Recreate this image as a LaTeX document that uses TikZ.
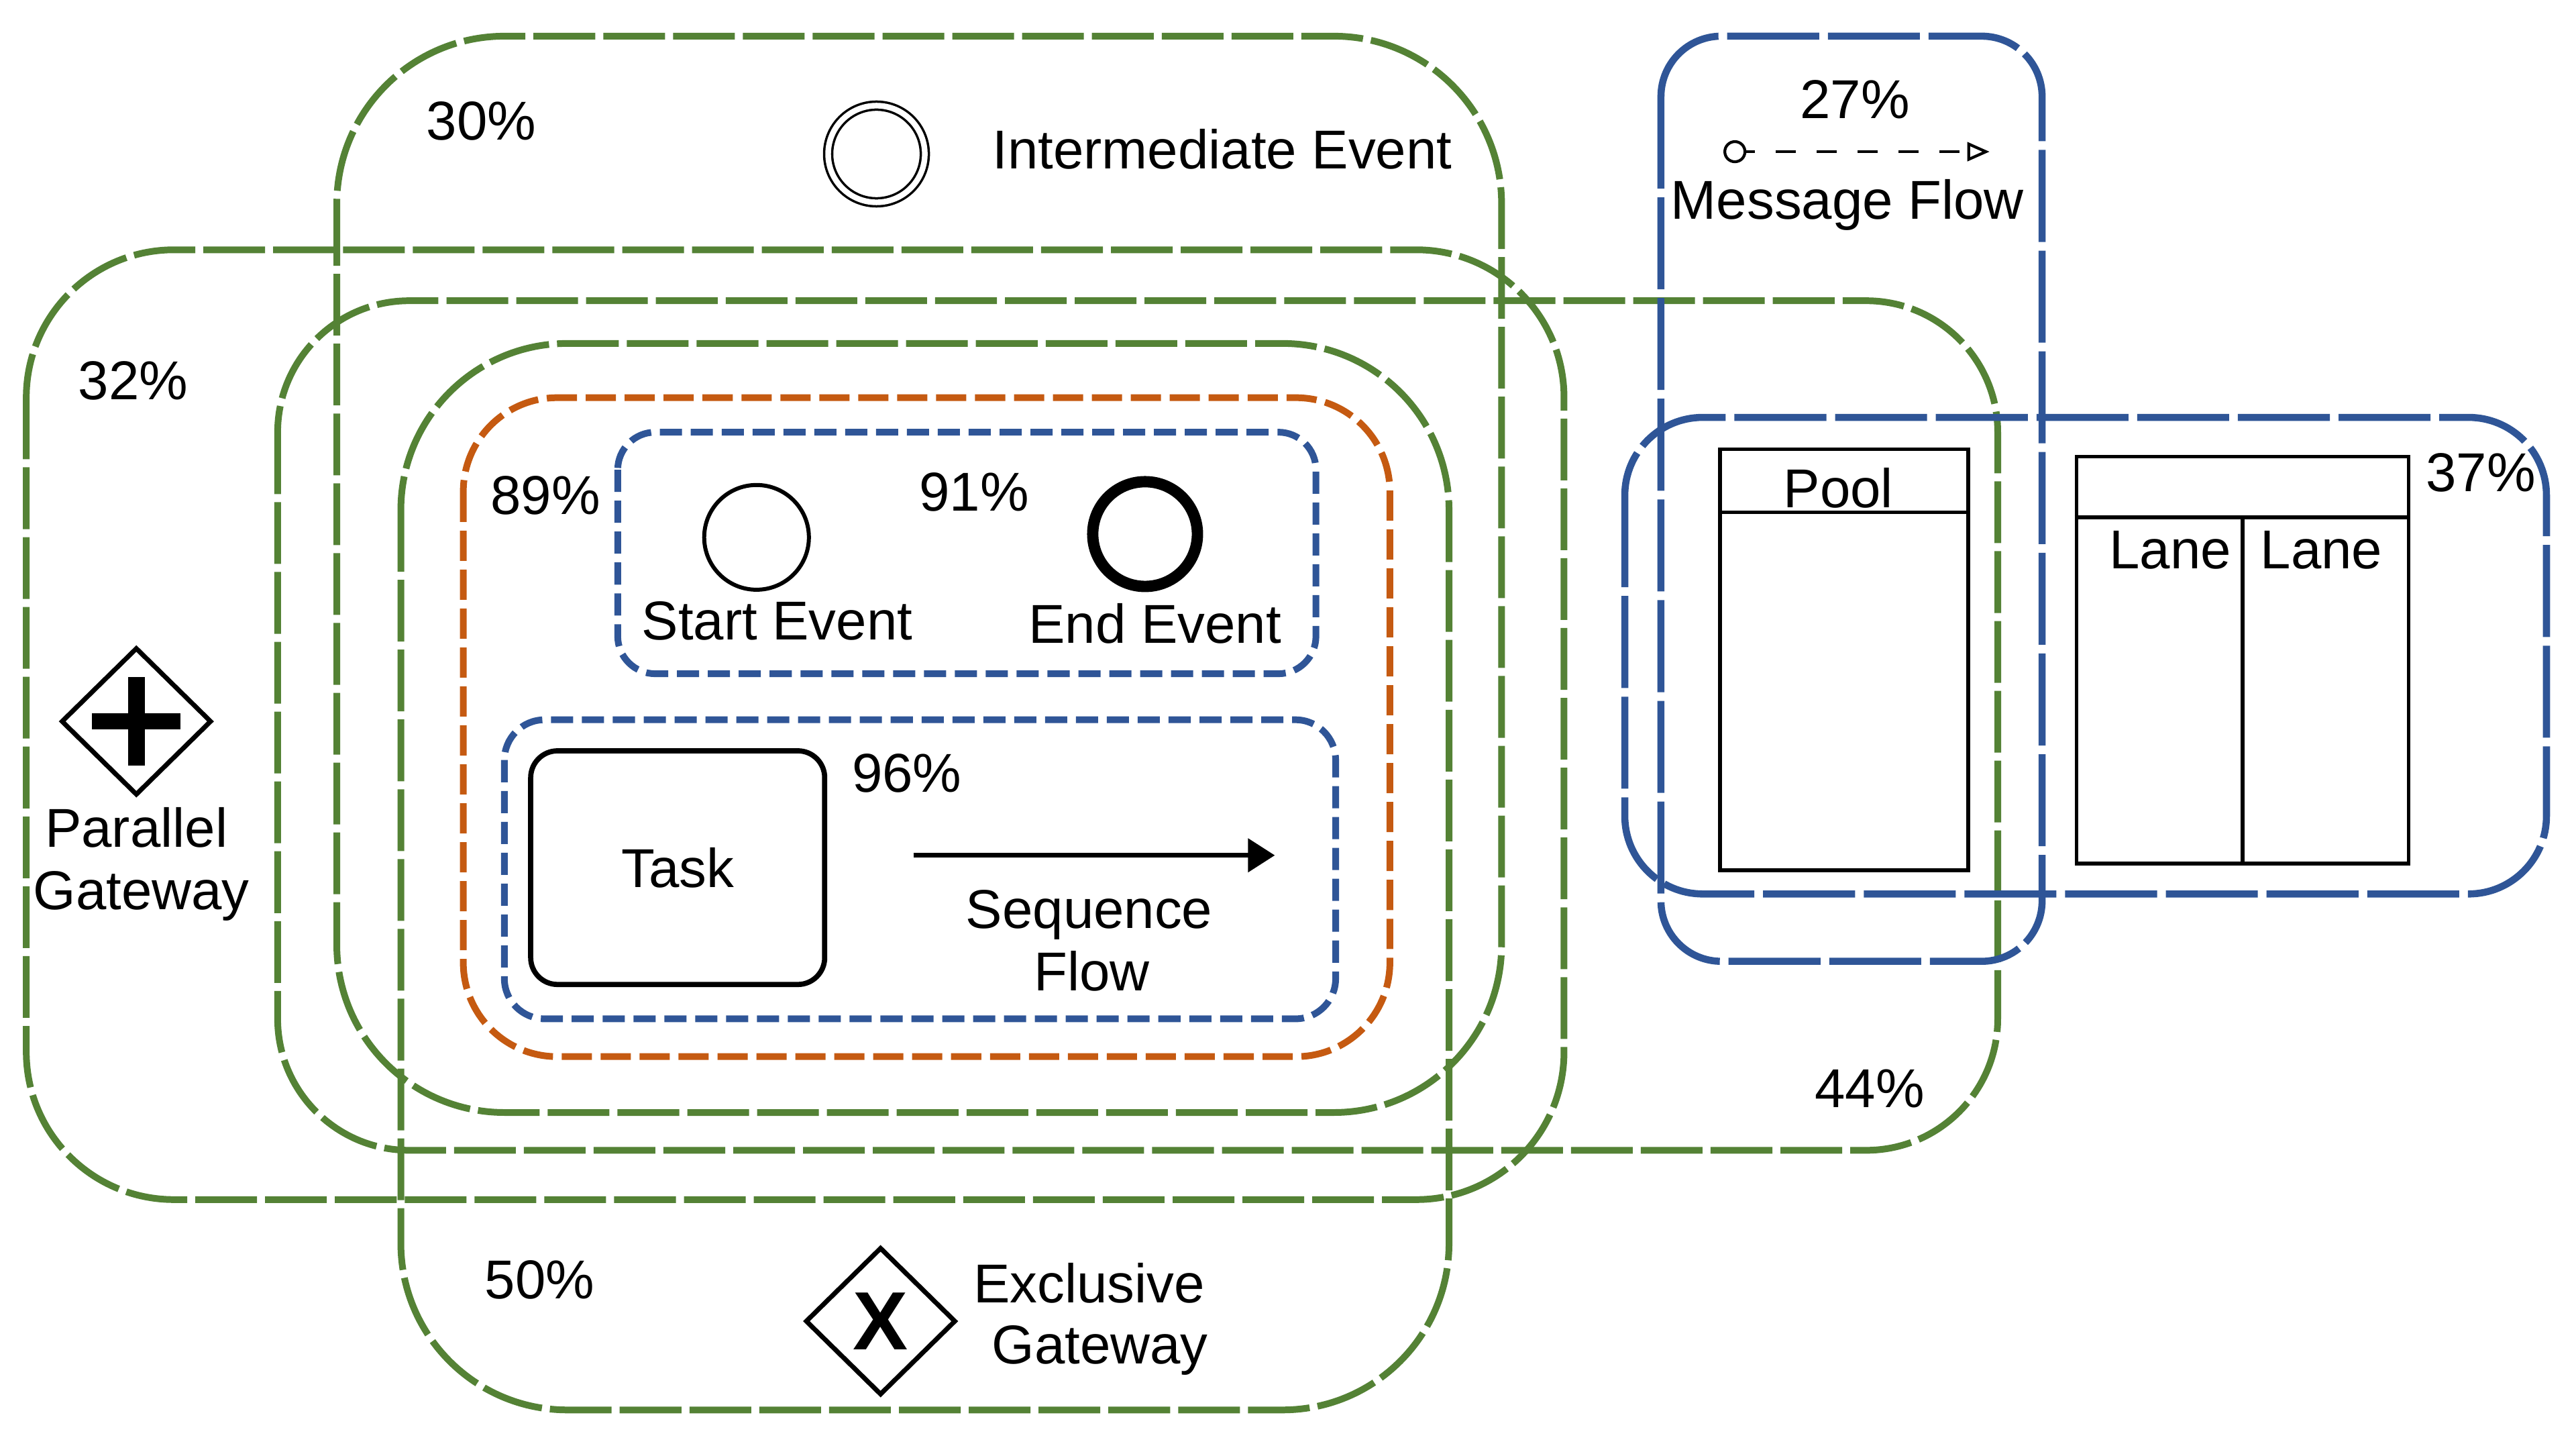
\documentclass[tikz,border=0pt]{standalone}
\usepackage{fontspec}
\setmainfont{Liberation Sans}
\usetikzlibrary{positioning}
\usetikzlibrary{arrows.meta}
\usetikzlibrary{shapes.geometric}

\definecolor{vgreen}{HTML}{548235}
\definecolor{vblue}{HTML}{2F5597}
\definecolor{vorange}{HTML}{C55A11}

\tikzset{
  greenset/.style={draw=vgreen, line width=1.42pt, dash pattern=on 0.46cm off 0.06cm},
  blueset/.style={draw=vblue, line width=1.5pt, dash pattern=on 0.685cm off 0.065cm},
  orangeset/.style={draw=vorange, line width=1.42pt, dash pattern=on 0.225cm off 0.065cm},
  bluesmall/.style={draw=vblue, line width=1.42pt, dash pattern=on 0.165cm off 0.065cm},
  txt/.style={font=\fontsize{11.6}{13.4}\selectfont, inner sep=0pt, anchor=base},
  evt/.style={circle, draw, inner sep=0pt, minimum size=0.78cm, line width=0.85pt},
  intevt/.style={circle, draw, double, double distance=1.2pt, line width=0.5pt, inner sep=0pt, minimum size=0.72cm},
  gateway/.style={diamond, draw, line width=1pt, inner sep=0pt, minimum width=1.12cm, minimum height=1.1cm},
  plusbar/.style={line width=3.5pt},
  taskbox/.style={draw, rounded corners=0.2cm, line width=1.1pt, minimum width=2.19cm, minimum height=1.74cm,
    font=\fontsize{11.6}{13.4}\selectfont},
  poolbox/.style={draw, line width=0.8pt, inner sep=0pt},
  seqflow/.style={line width=1.05pt, -{Triangle[length=0.2cm,width=0.245cm]}},
  msgflow/.style={line width=0.6pt, dash pattern=on 0.15cm off 0.155cm, dash phase=0.085cm,
    -{Triangle[open,length=0.165cm,width=0.14cm]}},
  msgsrc/.style={circle, draw, line width=0.6pt, inner sep=0pt, minimum size=0.15cm}
}

\begin{document}
\begin{tikzpicture}[x=0.012245cm, y=-0.012245cm]
\fill[white] (0,0) rectangle (1568,882);
\useasboundingbox (0,0) rectangle (1568,882);

% green sets
\draw[greenset, rounded corners=1.25cm] (205,22) rectangle (914,677);
\draw[greenset, rounded corners=1.1cm] (16,152) rectangle (952,730);
\draw[greenset, rounded corners=0.98cm] (169,183) rectangle (1216,700);
\draw[greenset, rounded corners=1.24cm] (244,209) rectangle (882,858);

% inner sets
\draw[orangeset, rounded corners=0.7cm] (282,242) rectangle (846,643);
\draw[bluesmall, rounded corners=0.28cm] (376,263) rectangle (801,410);
\draw[bluesmall, rounded corners=0.3cm] (307,438) rectangle (813,620);

% blue sets on the right
\draw[blueset, rounded corners=0.45cm] (1011,22) rectangle (1243,585);
\draw[blueset, rounded corners=0.58cm] (989,254) rectangle (1550,544);

% percentages
\node[txt] (p30) at (293,85) {30\%};
\node[txt] (p27) at (1129,72) {27\%};
\node[txt] (p37) at (1510,299) {37\%};
\node[txt] (p32) at (81,243) {32\%};
\node[txt] (p89) at (332,313) {89\%};
\node[txt] (p91) at (593,311) {91\%};
\node[txt] (p96) at (552,482) {96\%};
\node[txt] (p44) at (1138,674) {44\%};
\node[txt] (p50) at (328.5,790.5) {50\%};

% intermediate event
\node[intevt] (intev) at (533.5,93.7) {};
\node[txt] (intlbl) at (744,102.5) {Intermediate Event};

% message flow
\node[msgsrc] (msgsrc) at (1056,92.3) {};
\coordinate (msgdst) at (1211,92.3);
\draw[msgflow] (msgsrc) -- (msgdst);
\node[txt] (msglbl) at (1124.5,133.5) {Message Flow};

% pool and lanes
\node[poolbox, minimum width=1.85cm, minimum height=3.135cm] (pool) at (1122.5,401.5) {};
\draw[line width=0.8pt] ([yshift=-0.484cm]pool.north west) -- ([yshift=-0.484cm]pool.north east);
\node[txt] (poollbl) at (1119,309) {Pool};

\node[poolbox, minimum width=2.473cm, minimum height=3.031cm] (lanes) at (1365,401.75) {};
\draw[line width=0.8pt] ([yshift=-0.465cm]lanes.north west) -- ([yshift=-0.465cm]lanes.north east);
\draw[line width=0.8pt] ([yshift=-0.465cm]lanes.north) -- (lanes.south);
\node[txt] (lane1) at (1321,346) {Lane};
\node[txt] (lane2) at (1413,346) {Lane};

% start and end events
\node[evt] (startev) at (460.5,327) {};
\node[txt] (startlbl) at (473,389.5) {Start Event};
\node[evt, line width=2.4pt] (endev) at (697,325) {};
\node[txt] (endlbl) at (703,391.5) {End Event};

% task and sequence flow
\node[taskbox] (task) at (412.5,528) {Task};
\coordinate (seqsrc) at (556,520.5);
\coordinate (seqdst) at (776,520.5);
\draw[seqflow] (seqsrc) -- (seqdst);
\node[txt] (seqlbl1) at (663,565) {Sequence};
\node[txt] (seqlbl2) at (664.5,603) {Flow};

% gateways
\node[gateway] (pargw) at (83,439) {};
\draw[plusbar] ([xshift=-0.33cm]pargw.center) -- ([xshift=0.33cm]pargw.center);
\draw[plusbar] ([yshift=-0.33cm]pargw.center) -- ([yshift=0.33cm]pargw.center);
\node[txt] (parlbl1) at (83,515.5) {Parallel};
\node[txt] (parlbl2) at (86,553.5) {Gateway};

\node[gateway, font=\fontsize{17.5}{20}\selectfont\bfseries] (exgw) at (536,804) {X};
\node[txt] (exlbl1) at (663,792.6) {Exclusive};
\node[txt] (exlbl2) at (669.5,830) {Gateway};
\end{tikzpicture}
\end{document}
